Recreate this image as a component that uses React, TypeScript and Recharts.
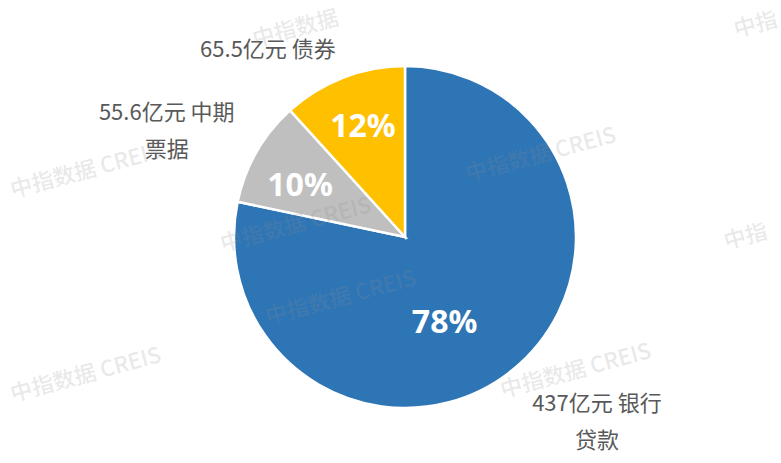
import React from "react";
import { PieChart, Pie, Cell } from "recharts";

// ---- data ----
const categories = ["银行贷款", "中期票据", "债券"];
const amounts = [437, 55.6, 65.5]; // 亿元
const outerLabelLines = [
  ["437亿元 银行", "贷款"],
  ["55.6亿元 中期", "票据"],
  ["65.5亿元 债券"],
];
const watermarkText = "中指数据  CREIS";

// ---- style ----
const COLORS = ["#2E75B6", "#BFBFBF", "#FFC000"];
const TEXT_COLOR = "#595959";
// label placement: angle (deg, recharts convention) and radius factor of outerRadius
const INNER_LAYOUT = [
  { angle: -64.6, r: 0.54 },
  { angle: 152.8, r: 0.69 },
  { angle: 110.6, r: 0.7 },
];
const OUTER_LAYOUT = [
  { angle: -43.6, r: 1.55 },
  { angle: 155.6, r: 1.53 },
  { angle: 125.8, r: 1.37 },
];
const WATERMARKS = [
  { x: 295, y: 26, t: "中指数据" },
  { x: 755, y: 22, t: "中指" },
  { x: 85, y: 168, t: watermarkText },
  { x: 295, y: 222, t: watermarkText },
  { x: 540, y: 152, t: watermarkText },
  { x: 745, y: 234, t: "中指" },
  { x: 340, y: 295, t: watermarkText },
  { x: 85, y: 372, t: watermarkText },
  { x: 575, y: 368, t: watermarkText },
];

const data = categories.map((c, i) => ({ name: c, value: amounts[i] }));

const RAD = Math.PI / 180;

const renderLabel = (props: any) => {
  const { cx, cy, outerRadius, percent, index } = props;
  const inL = INNER_LAYOUT[index];
  const outL = OUTER_LAYOUT[index];
  const ix = cx + outerRadius * inL.r * Math.cos(-inL.angle * RAD);
  const iy = cy + outerRadius * inL.r * Math.sin(-inL.angle * RAD);
  const ox = cx + outerRadius * outL.r * Math.cos(-outL.angle * RAD);
  const oy = cy + outerRadius * outL.r * Math.sin(-outL.angle * RAD);
  const lines = outerLabelLines[index];
  const lh = 37;
  const startY = oy - ((lines.length - 1) * lh) / 2;
  return (
    <g>
      <text
        x={ix}
        y={iy}
        fill="#ffffff"
        textAnchor="middle"
        dominantBaseline="central"
        fontFamily="'Noto Sans', 'Open Sans', sans-serif"
        fontWeight={700}
        fontSize={32}
      >
        {`${Math.round(percent * 100)}%`}
      </text>
      <text
        x={ox}
        y={startY}
        fill={TEXT_COLOR}
        textAnchor="middle"
        dominantBaseline="central"
        fontFamily="'Noto Sans CJK SC', 'Noto Sans', sans-serif"
        fontSize={22}
      >
        {lines.map((l, k) => (
          <tspan key={k} x={ox} y={startY + k * lh}>
            {l}
          </tspan>
        ))}
      </text>
    </g>
  );
};

export default function App() {
  return (
    <div style={{ position: "absolute", left: 0, top: 0, width: 781, height: 463, background: "#fff" }}>
      <div style={{ position: "absolute", left: 0, top: 0 }}>
        <PieChart width={781} height={463} margin={{ top: 0, right: 0, bottom: 0, left: 0 }}>
          <Pie
            data={data}
            dataKey="value"
            nameKey="name"
            cx={405}
            cy={237}
            outerRadius={171}
            startAngle={90}
            endAngle={-270}
            stroke="#ffffff"
            strokeWidth={2.5}
            label={renderLabel}
            labelLine={false}
            isAnimationActive={false}
          >
            {data.map((d, i) => (
              <Cell key={d.name} fill={COLORS[i]} />
            ))}
          </Pie>
        </PieChart>
      </div>
      <svg
        width={781}
        height={463}
        style={{ position: "absolute", left: 0, top: 0, pointerEvents: "none" }}
      >
        {WATERMARKS.map((w, i) => (
          <text
            key={i}
            x={w.x}
            y={w.y}
            textAnchor="middle"
            dominantBaseline="central"
            fill="#8c8c8c"
            fillOpacity={0.2}
            fontFamily="'Noto Sans CJK SC', sans-serif"
            fontWeight={500}
            fontSize={22}
            transform={`rotate(-15 ${w.x} ${w.y})`}
          >
            {w.t}
          </text>
        ))}
      </svg>
    </div>
  );
}
